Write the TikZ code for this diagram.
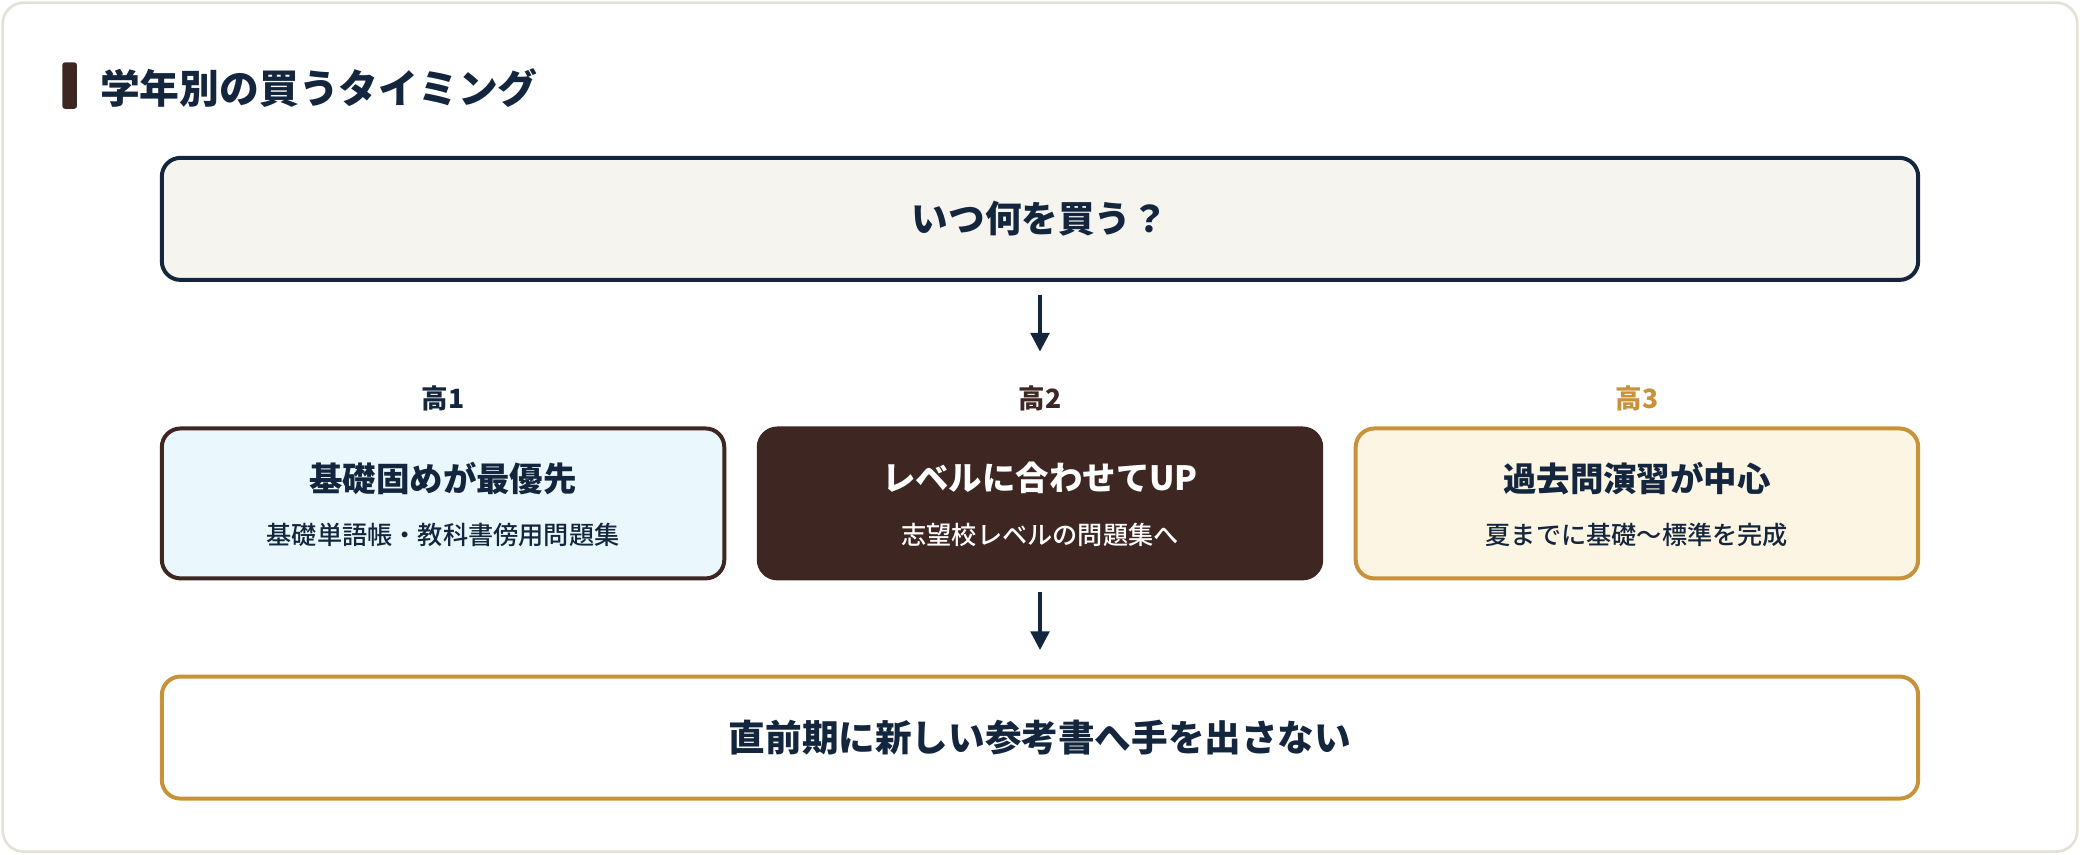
\documentclass[tikz,border=0pt]{standalone}
\usepackage{fontspec}
\setmainfont{Noto Sans CJK JP}
\newfontfamily\medfont{Noto Sans CJK JP Medium}
\usetikzlibrary{arrows.meta}
\definecolor{navy}{HTML}{13263D}
\definecolor{brown}{HTML}{3E2723}
\definecolor{gold}{HTML}{C8923A}
\definecolor{cardline}{HTML}{E5E2D5}
\definecolor{topfill}{HTML}{F6F4EF}
\definecolor{bluefill}{HTML}{EAF8FD}
\definecolor{creamfill}{HTML}{FDF5E4}
\begin{document}
\begin{tikzpicture}[x=0.5pt,y=-0.5pt,
  box/.style={draw,line width=1.5pt,rounded corners=7pt,inner sep=0pt},
  wide/.style={box,minimum width=662pt,minimum height=46pt,font=\fontsize{13.8}{16}\selectfont\bfseries,text=navy},
  mid/.style={box,minimum width=212pt,minimum height=56.5pt},
  lbl/.style={font=\fontsize{10}{12}\selectfont\bfseries},
  arr/.style={draw=navy,line width=1.3pt,-{Triangle[length=7pt,width=7pt]}}]
\useasboundingbox (0,0) rectangle (1568,644);
\fill[white] (0,0) rectangle (1568,644);
\draw[cardline,line width=1pt,rounded corners=8pt,fill=white] (2,2) rectangle (1566,642);
\fill[brown,rounded corners=1pt] (47,47) rectangle (58,82);
\node[anchor=west,text=navy,font=\fontsize{15}{17}\selectfont\bfseries,inner sep=0pt] (title) at (75,66) {学年別の買うタイミング};
\node[wide,draw=navy,fill=topfill] (top) at (784,165) {いつ何を買う？};
\node[lbl,text=navy] (l1) at (334,300) {高1};
\node[lbl,text=brown] (l2) at (784,300) {高2};
\node[lbl,text=gold] (l3) at (1234,300) {高3};
\node[mid,draw=brown,fill=bluefill] (b1) at (334,379.5) {};
\node[mid,draw=brown,fill=brown] (b2) at (784,379.5) {};
\node[mid,draw=gold,fill=creamfill] (b3) at (1234,379.5) {};
\foreach \n/\t/\s/\c in {b1/基礎固めが最優先/基礎単語帳・教科書傍用問題集/navy, b2/レベルに合わせてUP/志望校レベルの問題集へ/white, b3/過去問演習が中心/夏までに基礎〜標準を完成/navy}{
  \node[text=\c,font=\fontsize{12.6}{14}\selectfont\bfseries] (\n t) at ([yshift=9.5pt]\n.center) {\t};
  \node[text=\c,font=\fontsize{9.5}{11}\selectfont\medfont] (\n s) at ([yshift=-12pt]\n.center) {\s};
}
\node[wide,draw=gold,fill=white] (bot) at (784,556) {直前期に新しい参考書へ手を出さない};
\coordinate (a1s) at (784,222); \coordinate (a1e) at (784,265);
\coordinate (a2s) at (784,446); \coordinate (a2e) at (784,490);
\draw[arr] (a1s) -- (a1e);
\draw[arr] (a2s) -- (a2e);
\end{tikzpicture}
\end{document}
